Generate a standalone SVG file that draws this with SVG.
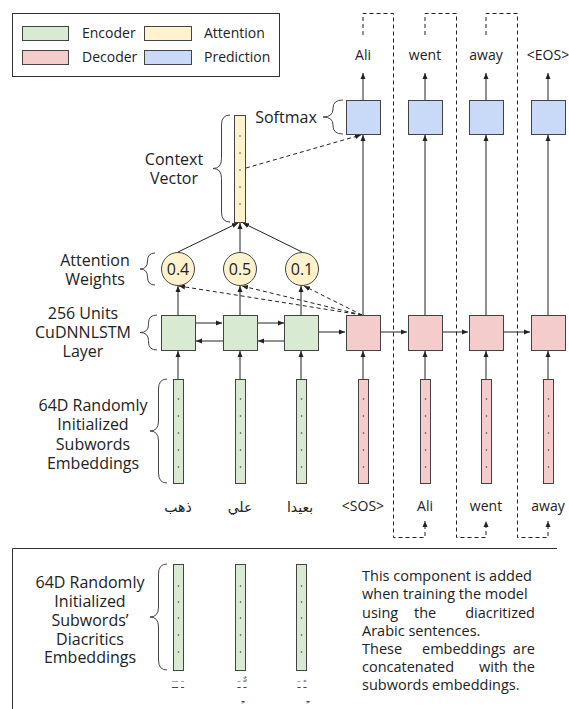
<svg xmlns="http://www.w3.org/2000/svg" width="569" height="709" viewBox="0 0 569 709">
<defs>
<marker id="ah" markerWidth="6" markerHeight="6" refX="6" refY="3" orient="auto" markerUnits="userSpaceOnUse"><path d="M0,0.5 L6,3 L0,5.5 z" fill="#222"/></marker>
</defs>
<style>
text{font-family:"Open Sans","Noto Sans",sans-serif;fill:#222}
.lbl{font-size:16px;text-anchor:middle}
.tok{font-size:14px;text-anchor:middle}
.leg{font-size:14px}
.ar{font-family:"DejaVu Sans",sans-serif;font-size:14px;text-anchor:middle}
.dia{font-family:"DejaVu Sans",sans-serif;font-size:10px;text-anchor:middle;fill:#444}
.note{font-size:14.5px}
.enc{fill:#d9ead3;stroke:#434343;stroke-width:1}
.dec{fill:#f4cccc;stroke:#434343;stroke-width:1}
.att{fill:#fff2cc;stroke:#434343;stroke-width:1}
.pred{fill:#c9daf8;stroke:#434343;stroke-width:1}
.arr{stroke:#222;stroke-width:1;fill:none;marker-end:url(#ah)}
.darr{stroke:#222;stroke-width:1;fill:none;stroke-dasharray:4,3;marker-end:url(#ah)}
.brace{stroke:#444;fill:none;stroke-width:1}
.dot{fill:#444}
.frame{stroke:#333;fill:none;stroke-width:1}
</style>

<g id="legend">
<rect class="frame" x="12.5" y="13.5" width="267" height="63"/>
<rect class="enc" x="22.5" y="26.5" width="46" height="14"/>
<text class="leg" x="82" y="38">Encoder</text>
<rect class="att" x="144.5" y="26.5" width="47" height="14"/>
<text class="leg" x="204" y="38">Attention</text>
<rect class="dec" x="22.5" y="50.5" width="46" height="14"/>
<text class="leg" x="82" y="62">Decoder</text>
<rect class="pred" x="144.5" y="50.5" width="47" height="14"/>
<text class="leg" x="204" y="62">Prediction</text>
</g>

<g id="connectors">
<line class="arr" x1="178" y1="379" x2="178" y2="351"/>
<line class="arr" x1="240" y1="379" x2="240" y2="351"/>
<line class="arr" x1="301" y1="379" x2="301" y2="351"/>
<line class="arr" x1="363" y1="379" x2="363" y2="351"/>
<line class="arr" x1="425" y1="379" x2="425" y2="351"/>
<line class="arr" x1="486" y1="379" x2="486" y2="351"/>
<line class="arr" x1="548" y1="379" x2="548" y2="351"/>
<line class="arr" x1="195" y1="323" x2="222" y2="323"/>
<line class="arr" x1="257" y1="323" x2="284" y2="323"/>
<line class="arr" x1="223" y1="341" x2="196" y2="341"/>
<line class="arr" x1="284" y1="341" x2="258" y2="341"/>
<line class="arr" x1="318" y1="332" x2="345" y2="332"/>
<line class="arr" x1="380" y1="332" x2="407" y2="332"/>
<line class="arr" x1="442" y1="332" x2="468" y2="332"/>
<line class="arr" x1="503" y1="332" x2="530" y2="332"/>
<line class="arr" x1="178" y1="315" x2="178" y2="286"/>
<line class="arr" x1="240" y1="315" x2="240" y2="286"/>
<line class="arr" x1="301" y1="315" x2="301" y2="286"/>
<line class="darr" x1="362" y1="315" x2="179" y2="286"/>
<line class="darr" x1="362" y1="315" x2="242" y2="286"/>
<line class="darr" x1="362" y1="315" x2="304" y2="286"/>
<line class="arr" x1="178" y1="252" x2="238" y2="223"/>
<line class="arr" x1="240" y1="252" x2="240" y2="223"/>
<line class="arr" x1="302" y1="252" x2="243" y2="223"/>
<line class="darr" x1="246" y1="168" x2="361" y2="135"/>
<line class="arr" x1="363" y1="315" x2="363" y2="135"/>
<line class="arr" x1="425" y1="315" x2="425" y2="135"/>
<line class="arr" x1="486" y1="315" x2="486" y2="135"/>
<line class="arr" x1="548" y1="315" x2="548" y2="135"/>
<line class="arr" x1="363" y1="100" x2="363" y2="73"/>
<line class="arr" x1="425" y1="100" x2="425" y2="73"/>
<line class="arr" x1="486" y1="100" x2="486" y2="73"/>
<line class="arr" x1="548" y1="100" x2="548" y2="73"/>
<path class="darr" d="M363,35 V13.5 H393.5 V537.5 H425 V521"/>
<path class="darr" d="M425,35 V13.5 H456.5 V537.5 H486 V521"/>
<path class="darr" d="M486,35 V13.5 H517.5 V537.5 H548 V521"/>
</g>

<g id="braces">
<path class="brace" d="M343,100 Q333,100 333,108 L333,109 Q333,117 323,117 Q333,117 333,125 L333,126 Q333,134 343,134"/>
<path class="brace" d="M230,115 Q221.5,115 221.5,125 L221.5,158.5 Q221.5,168.5 213,168.5 Q221.5,168.5 221.5,178.5 L221.5,212 Q221.5,222 230,222"/>
<path class="brace" d="M155,253 Q147.5,253 147.5,261 Q147.5,269 140,269 Q147.5,269 147.5,277 Q147.5,285 155,285"/>
<path class="brace" d="M157,315 Q148.5,315 148.5,323 L148.5,324.5 Q148.5,332.5 140,332.5 Q148.5,332.5 148.5,340.5 L148.5,342 Q148.5,350 157,350"/>
<path class="brace" d="M167,379 Q158.5,379 158.5,389 L158.5,421 Q158.5,431 150,431 Q158.5,431 158.5,441 L158.5,473 Q158.5,483 167,483"/>
<path class="brace" d="M167,564 Q158.5,564 158.5,574 L158.5,607 Q158.5,617 150,617 Q158.5,617 158.5,627 L158.5,660 Q158.5,670 167,670"/>
</g>

<g id="labels">
<text class="lbl" x="286" y="123">Softmax</text>
<text class="lbl" x="174" y="165">Context</text>
<text class="lbl" x="174" y="184">Vector</text>
<text class="lbl" x="95" y="266">Attention</text>
<text class="lbl" x="95" y="285">Weights</text>
<text class="lbl" x="83" y="319">256 Units</text>
<text class="lbl" x="83" y="338">CuDNNLSTM</text>
<text class="lbl" x="83" y="357">Layer</text>
<text class="lbl" x="93" y="411">64D Randomly</text>
<text class="lbl" x="93" y="430">Initialized</text>
<text class="lbl" x="93" y="450">Subwords</text>
<text class="lbl" x="93" y="469">Embeddings</text>
</g>

<g id="prediction">
<rect class="pred" x="346.5" y="100.5" width="34" height="34"/>
<rect class="pred" x="408.5" y="100.5" width="34" height="34"/>
<rect class="pred" x="469.5" y="100.5" width="34" height="34"/>
<rect class="pred" x="531.5" y="100.5" width="34" height="34"/>
<text class="tok" x="363" y="60">Ali</text>
<text class="tok" x="425" y="60">went</text>
<text class="tok" x="486" y="60">away</text>
<text class="tok" x="548" y="60">&lt;EOS&gt;</text>
</g>

<g id="context-vector">
<rect class="att" x="234.5" y="115.5" width="11" height="107"/>
<circle class="dot" cx="240" cy="136" r="0.8"/><circle class="dot" cx="240" cy="153" r="0.8"/><circle class="dot" cx="240" cy="170" r="0.8"/><circle class="dot" cx="240" cy="187" r="0.8"/><circle class="dot" cx="240" cy="204" r="0.8"/>
</g>

<g id="attention-weights">
<circle class="att" cx="178" cy="269" r="16.5"/>
<text class="lbl" x="178" y="275">0.4</text>
<circle class="att" cx="240" cy="269" r="16.5"/>
<text class="lbl" x="240" y="275">0.5</text>
<circle class="att" cx="302" cy="269" r="16.5"/>
<text class="lbl" x="302" y="275">0.1</text>
</g>

<g id="encoder-lstm">
<rect class="enc" x="161.5" y="315.5" width="34" height="35"/>
<rect class="enc" x="223.5" y="315.5" width="34" height="35"/>
<rect class="enc" x="284.5" y="315.5" width="34" height="35"/>
</g>

<g id="decoder-lstm">
<rect class="dec" x="346.5" y="315.5" width="34" height="35"/>
<rect class="dec" x="408.5" y="315.5" width="34" height="35"/>
<rect class="dec" x="469.5" y="315.5" width="34" height="35"/>
<rect class="dec" x="531.5" y="315.5" width="34" height="35"/>
</g>

<g id="embeddings">
<rect class="enc" x="173.5" y="379.5" width="10" height="104"/>
<rect class="enc" x="235.5" y="379.5" width="10" height="104"/>
<rect class="enc" x="296.5" y="379.5" width="10" height="104"/>
<rect class="dec" x="358.5" y="379.5" width="10" height="104"/>
<rect class="dec" x="420.5" y="379.5" width="10" height="104"/>
<rect class="dec" x="481.5" y="379.5" width="10" height="104"/>
<rect class="dec" x="543.5" y="379.5" width="10" height="104"/>
<g class="dot">
<circle cx="178.5" cy="399" r="0.8"/><circle cx="178.5" cy="416" r="0.8"/><circle cx="178.5" cy="433" r="0.8"/><circle cx="178.5" cy="450" r="0.8"/><circle cx="178.5" cy="467" r="0.8"/>
<circle cx="240.5" cy="399" r="0.8"/><circle cx="240.5" cy="416" r="0.8"/><circle cx="240.5" cy="433" r="0.8"/><circle cx="240.5" cy="450" r="0.8"/><circle cx="240.5" cy="467" r="0.8"/>
<circle cx="301.5" cy="399" r="0.8"/><circle cx="301.5" cy="416" r="0.8"/><circle cx="301.5" cy="433" r="0.8"/><circle cx="301.5" cy="450" r="0.8"/><circle cx="301.5" cy="467" r="0.8"/>
<circle cx="363.5" cy="399" r="0.8"/><circle cx="363.5" cy="416" r="0.8"/><circle cx="363.5" cy="433" r="0.8"/><circle cx="363.5" cy="450" r="0.8"/><circle cx="363.5" cy="467" r="0.8"/>
<circle cx="425.5" cy="399" r="0.8"/><circle cx="425.5" cy="416" r="0.8"/><circle cx="425.5" cy="433" r="0.8"/><circle cx="425.5" cy="450" r="0.8"/><circle cx="425.5" cy="467" r="0.8"/>
<circle cx="486.5" cy="399" r="0.8"/><circle cx="486.5" cy="416" r="0.8"/><circle cx="486.5" cy="433" r="0.8"/><circle cx="486.5" cy="450" r="0.8"/><circle cx="486.5" cy="467" r="0.8"/>
<circle cx="548.5" cy="399" r="0.8"/><circle cx="548.5" cy="416" r="0.8"/><circle cx="548.5" cy="433" r="0.8"/><circle cx="548.5" cy="450" r="0.8"/><circle cx="548.5" cy="467" r="0.8"/>
</g>
</g>

<g id="input-tokens">
<text class="ar" x="178" y="512">ذهب</text>
<text class="ar" x="240" y="512">علي</text>
<text class="ar" x="300" y="512">بعيدا</text>
<text class="tok" x="363" y="511">&lt;SOS&gt;</text>
<text class="tok" x="425" y="511">Ali</text>
<text class="tok" x="486" y="511">went</text>
<text class="tok" x="548" y="511">away</text>
</g>

<g id="diacritics-panel">
<path class="frame" d="M12.5,709 V548.5 H557"/>
<text class="lbl" x="90" y="588">64D Randomly</text>
<text class="lbl" x="90" y="607">Initialized</text>
<text class="lbl" x="90" y="626">Subwords’</text>
<text class="lbl" x="90" y="645">Diacritics</text>
<text class="lbl" x="90" y="663">Embeddings</text>
<rect class="enc" x="173.5" y="564.5" width="10" height="106"/>
<rect class="enc" x="235.5" y="564.5" width="10" height="106"/>
<rect class="enc" x="296.5" y="564.5" width="10" height="106"/>
<g class="dot">
<circle cx="178.5" cy="586" r="0.8"/><circle cx="178.5" cy="602" r="0.8"/><circle cx="178.5" cy="618" r="0.8"/><circle cx="178.5" cy="635" r="0.8"/><circle cx="178.5" cy="652" r="0.8"/>
<circle cx="240.5" cy="586" r="0.8"/><circle cx="240.5" cy="602" r="0.8"/><circle cx="240.5" cy="618" r="0.8"/><circle cx="240.5" cy="635" r="0.8"/><circle cx="240.5" cy="652" r="0.8"/>
<circle cx="301.5" cy="586" r="0.8"/><circle cx="301.5" cy="602" r="0.8"/><circle cx="301.5" cy="618" r="0.8"/><circle cx="301.5" cy="635" r="0.8"/><circle cx="301.5" cy="652" r="0.8"/>
</g>
<text class="dia" x="178" y="688">ـَ  ـَـَ</text>
<text class="dia" x="242" y="688">ـٌّ  ـَ</text>
<text class="dia" x="243" y="702">ـِ</text>
<text class="dia" x="302" y="688">ـً  ـَ</text>
<text class="dia" x="308" y="702">ـِ</text>
<text class="note" x="362" y="581">This component is added</text>
<text class="note" x="362" y="599">when training the model</text>
<text class="note" x="362" y="618">using</text>
<text class="note" x="414" y="618">the</text>
<text class="note" x="535" y="618" text-anchor="end">diacritized</text>
<text class="note" x="362" y="636">Arabic sentences.</text>
<text class="note" x="362" y="654">These</text>
<text class="note" x="422" y="654">embeddings</text>
<text class="note" x="535" y="654" text-anchor="end">are</text>
<text class="note" x="362" y="672">concatenated</text>
<text class="note" x="479" y="672">with</text>
<text class="note" x="535" y="672" text-anchor="end">the</text>
<text class="note" x="362" y="690">subwords embeddings.</text>
</g>
</svg>
